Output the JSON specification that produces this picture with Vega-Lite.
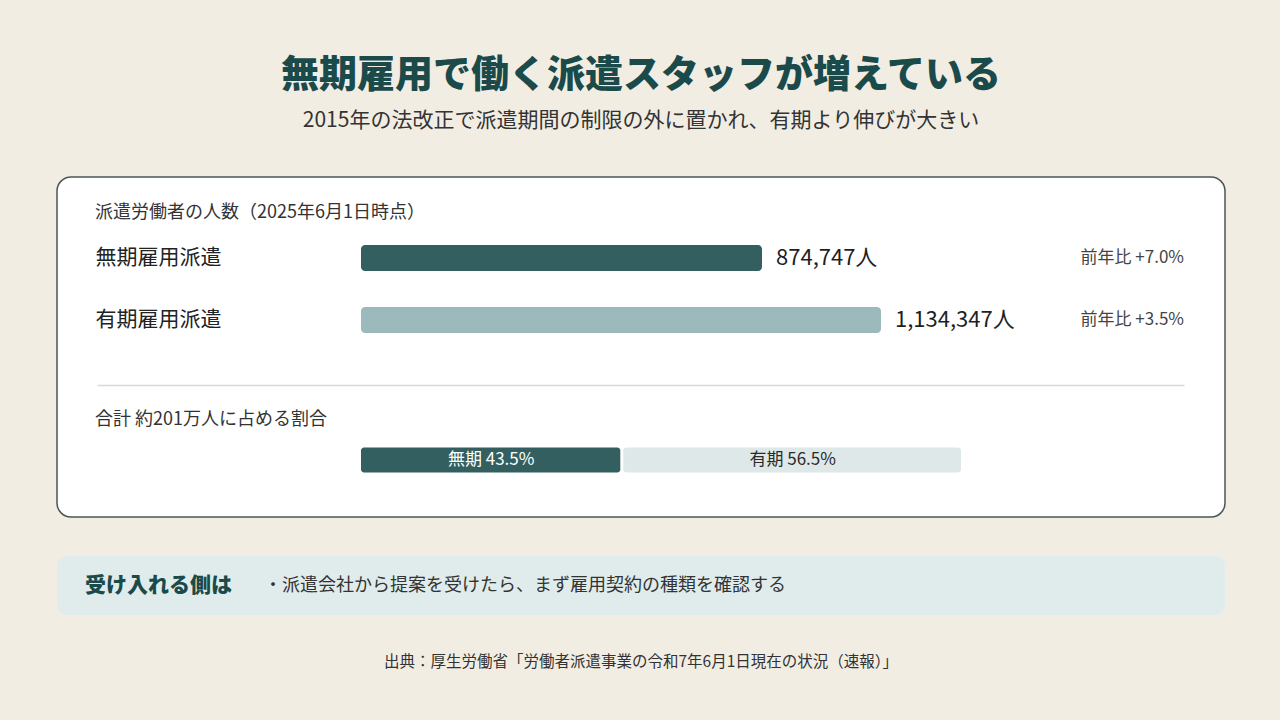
{
  "$schema": "https://vega.github.io/schema/vega-lite/v6.json",
  "description": "Dispatched workers by contract type, June 1 2025",
  "background": "#f2ede3",
  "padding": {"left": 56, "right": 54, "top": 57, "bottom": 60},
  "config": {
    "font": "Noto Sans CJK JP",
    "view": {"stroke": null}
  },
  "title": {
    "text": "無期雇用で働く派遣スタッフが増えている",
    "subtitle": "2015年の法改正で派遣期間の制限の外に置かれ、有期より伸びが大きい",
    "anchor": "middle",
    "fontSize": 38,
    "fontWeight": 900,
    "color": "#1b4a4b",
    "subtitleFontSize": 21,
    "subtitleFontWeight": "normal",
    "subtitleColor": "#333333",
    "subtitlePadding": 15,
    "offset": 45
  },
  "spacing": 38,
  "vconcat": [
    {
      "width": 1168,
      "height": 340,
      "view": {"fill": "white", "stroke": "#4b5753", "strokeWidth": 1.5, "cornerRadius": 14},
      "title": {
        "text": "派遣労働者の人数（2025年6月1日時点）",
        "subtitle": "合計 約201万人に占める割合",
        "anchor": "start",
        "frame": "group",
        "dx": 38,
        "offset": -252,
        "fontSize": 18,
        "fontWeight": "normal",
        "color": "#333333",
        "subtitleFontSize": 18,
        "subtitleColor": "#333333",
        "subtitlePadding": 189
      },
      "layer": [
        {
          "data": {
            "values": [
              {"group": "無期雇用派遣", "people": 874747, "yoy": 7.0},
              {"group": "有期雇用派遣", "people": 1134347, "yoy": 3.5}
            ]
          },
          "encoding": {
            "y": {
              "field": "group",
              "type": "nominal",
              "sort": null,
              "scale": {"range": [68, 156], "paddingInner": 0.58, "paddingOuter": 0},
              "axis": {
                "orient": "left",
                "offset": -38,
                "title": null,
                "domain": false,
                "ticks": false,
                "tickSize": 0,
                "labelPadding": 0,
                "labelAlign": "left",
                "labelFontSize": 21,
                "labelColor": "#222222"
              }
            }
          },
          "layer": [
            {
              "layer": [
                {
                  "mark": {"type": "bar", "cornerRadius": 4},
                  "encoding": {
                    "x": {
                      "field": "people",
                      "type": "quantitative",
                      "scale": {"domain": [0, 1134347], "range": [304, 824], "nice": false},
                      "axis": null
                    },
                    "color": {
                      "field": "group",
                      "type": "nominal",
                      "scale": {"domain": ["無期雇用派遣", "有期雇用派遣"], "range": ["#335f61", "#9cbabb"]},
                      "legend": null
                    }
                  }
                },
                {
                  "mark": {
                    "type": "text",
                    "align": "left",
                    "baseline": "middle",
                    "dx": 14,
                    "fontSize": 22,
                    "color": "#1f1f1f",
                    "text": {"expr": "format(datum.people, ',') + '人'"}
                  },
                  "encoding": {
                    "x": {"field": "people", "type": "quantitative"}
                  }
                }
              ]
            },
            {
              "mark": {
                "type": "text",
                "align": "right",
                "baseline": "middle",
                "fontSize": 17,
                "color": "#444444",
                "text": {"expr": "'前年比 +' + format(datum.yoy, '.1f') + '%'"}
              },
              "encoding": {
                "x": {
                  "field": "yoy",
                  "type": "quantitative",
                  "scale": {"domain": [0, 1], "range": [40, 1127], "clamp": true, "nice": false},
                  "axis": {
                    "orient": "top",
                    "offset": -208,
                    "domain": true,
                    "domainColor": "#d9d9d9",
                    "domainWidth": 1.5,
                    "labels": false,
                    "ticks": false,
                    "grid": false,
                    "title": null
                  }
                }
              }
            }
          ],
          "resolve": {"scale": {"x": "independent"}, "axis": {"x": "independent"}}
        },
        {
          "data": {
            "values": [
              {"basis": "合計", "part": "無期", "pct": 43.5},
              {"basis": "合計", "part": "有期", "pct": 56.5}
            ]
          },
          "transform": [
            {"stack": "pct", "groupby": ["basis"], "sort": [{"field": "part", "order": "descending"}], "as": ["p0", "p1"]}
          ],
          "encoding": {
            "y": {
              "field": "basis",
              "type": "nominal",
              "scale": {"range": [270.5, 295.5], "paddingInner": 0, "paddingOuter": 0},
              "axis": null
            }
          },
          "layer": [
            {
              "mark": {"type": "bar", "cornerRadius": 3, "xOffset": 3},
              "encoding": {
                "x": {
                  "field": "p0",
                  "type": "quantitative",
                  "scale": {"domain": [0, 100], "range": [301, 904], "nice": false},
                  "axis": null
                },
                "x2": {"field": "p1"},
                "color": {
                  "field": "part",
                  "type": "nominal",
                  "scale": {"domain": ["無期", "有期"], "range": ["#335f61", "#dfe8e8"]},
                  "legend": null
                }
              }
            },
            {
              "transform": [
                {"fold": ["p0", "p1"], "as": ["edge", "pos"]}
              ],
              "mark": {
                "type": "text",
                "align": "center",
                "baseline": "middle",
                "dx": 2,
                "fontSize": 17,
                "text": {"expr": "datum.part + ' ' + format(datum.pct, '.1f') + '%'"}
              },
              "encoding": {
                "x": {"field": "pos", "type": "quantitative", "aggregate": "mean"},
                "detail": [
                  {"field": "part", "type": "nominal"},
                  {"field": "pct", "type": "quantitative"}
                ],
                "color": {
                  "condition": {"test": "datum.part === '無期'", "value": "#ffffff"},
                  "value": "#2b2b2b"
                }
              }
            }
          ]
        }
      ],
      "resolve": {
        "scale": {"x": "independent", "y": "independent", "color": "independent"},
        "axis": {"x": "independent", "y": "independent"}
      }
    },
    {
      "width": 1168,
      "height": 59,
      "view": {"fill": "#e0ecec", "stroke": null, "cornerRadius": 10},
      "title": {
        "text": "出典：厚生労働省「労働者派遣事業の令和7年6月1日現在の状況（速報）」",
        "orient": "bottom",
        "anchor": "middle",
        "offset": 40,
        "fontSize": 15.5,
        "fontWeight": "normal",
        "color": "#333333"
      },
      "data": {
        "values": [
          {"role": "heading", "text": "受け入れる側は"},
          {"role": "point", "text": "・派遣会社から提案を受けたら、まず雇用契約の種類を確認する"}
        ]
      },
      "mark": {
        "type": "text",
        "align": "left",
        "baseline": "middle",
        "fontWeight": {"expr": "datum.role === 'heading' ? 900 : 400"}
      },
      "encoding": {
        "x": {
          "field": "role",
          "type": "nominal",
          "scale": {"type": "point", "domain": ["heading", "point"], "range": [28, 207], "padding": 0},
          "axis": null
        },
        "text": {"field": "text"},
        "size": {
          "field": "role",
          "type": "nominal",
          "scale": {"domain": ["heading", "point"], "range": [21, 18]},
          "legend": null
        },
        "color": {
          "field": "role",
          "type": "nominal",
          "scale": {"domain": ["heading", "point"], "range": ["#1b4a4b", "#333333"]},
          "legend": null
        }
      }
    }
  ]
}
